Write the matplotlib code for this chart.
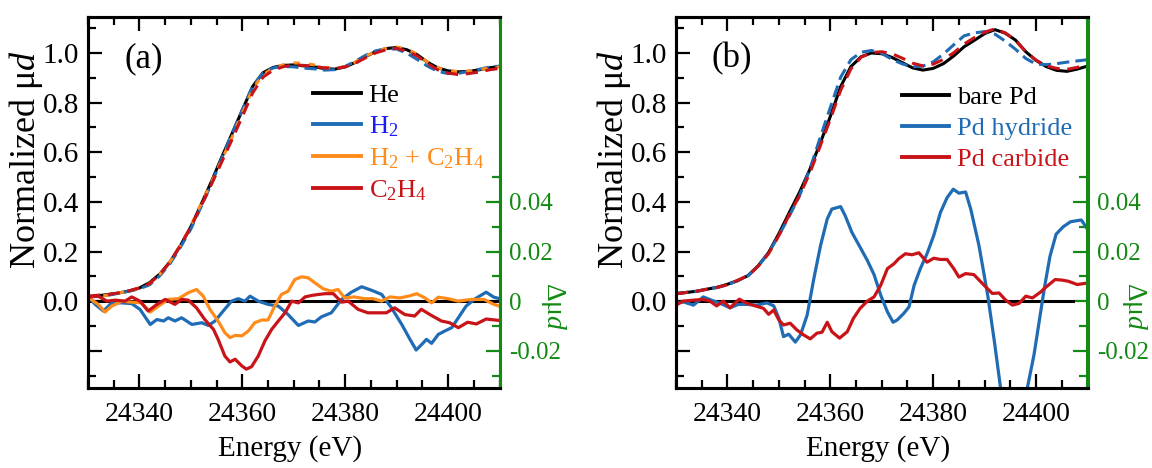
import matplotlib.pyplot as plt
from matplotlib.lines import Line2D
from matplotlib.ticker import FixedLocator, MultipleLocator, FuncFormatter

plt.rcParams['font.family'] = ['Liberation Serif', 'DejaVu Serif']
plt.rcParams['mathtext.fontset'] = 'custom'
plt.rcParams['mathtext.rm'] = 'Liberation Serif'
plt.rcParams['mathtext.it'] = 'Liberation Serif:italic'

# ---- data ----
energy = [24330, 24332, 24334, 24336, 24338, 24340, 24342, 24344, 24346, 24348,
          24350, 24352, 24354, 24356, 24358, 24360, 24362, 24364, 24366, 24368,
          24370, 24372, 24374, 24376, 24378, 24380, 24382, 24384, 24386, 24388,
          24390, 24392, 24394, 24396, 24398, 24400, 24402, 24404, 24406, 24408,
          24410]

# panel (a): normalized mu*d
mu_he = [0.018, 0.022, 0.027, 0.033, 0.041, 0.053, 0.075, 0.110, 0.160, 0.225,
         0.300, 0.390, 0.482, 0.580, 0.675, 0.770, 0.865, 0.920, 0.942, 0.950,
         0.952, 0.948, 0.944, 0.937, 0.935, 0.944, 0.962, 0.986, 1.006, 1.018,
         1.022, 1.013, 0.993, 0.963, 0.940, 0.928, 0.924, 0.926, 0.932, 0.940,
         0.946]
mu_h2 = [0.018, 0.020, 0.024, 0.032, 0.040, 0.050, 0.066, 0.103, 0.153, 0.218,
         0.291, 0.381, 0.473, 0.575, 0.675, 0.771, 0.866, 0.919, 0.940, 0.946,
         0.944, 0.939, 0.936, 0.931, 0.933, 0.946, 0.967, 0.991, 1.009, 1.017,
         1.016, 0.999, 0.974, 0.947, 0.926, 0.917, 0.918, 0.926, 0.934, 0.943,
         0.947]
mu_mix = [0.019, 0.020, 0.024, 0.033, 0.041, 0.053, 0.071, 0.109, 0.161, 0.226,
          0.304, 0.393, 0.478, 0.569, 0.661, 0.756, 0.855, 0.912, 0.939, 0.953,
          0.960, 0.958, 0.952, 0.942, 0.939, 0.945, 0.964, 0.987, 1.007, 1.019,
          1.024, 1.015, 0.996, 0.963, 0.941, 0.929, 0.924, 0.927, 0.933, 0.939,
          0.944]
mu_c2h4 = [0.020, 0.024, 0.027, 0.033, 0.042, 0.053, 0.071, 0.109, 0.159, 0.226,
           0.299, 0.384, 0.471, 0.561, 0.651, 0.744, 0.839, 0.902, 0.931, 0.945,
           0.952, 0.950, 0.946, 0.940, 0.937, 0.944, 0.959, 0.981, 1.001, 1.013,
           1.019, 1.007, 0.988, 0.958, 0.932, 0.919, 0.913, 0.917, 0.923, 0.932,
           0.938]

# panel (b): normalized mu*d
mu_bare = [0.031, 0.035, 0.040, 0.048, 0.056, 0.068, 0.083, 0.103, 0.143, 0.196,
           0.272, 0.356, 0.438, 0.530, 0.635, 0.744, 0.864, 0.945, 0.985, 1.000,
           0.997, 0.982, 0.961, 0.940, 0.931, 0.938, 0.957, 0.988, 1.025, 1.051,
           1.078, 1.094, 1.080, 1.052, 1.005, 0.970, 0.945, 0.930, 0.926, 0.935,
           0.947]
mu_hydride = [0.030, 0.035, 0.039, 0.049, 0.055, 0.066, 0.082, 0.102, 0.141, 0.195,
              0.265, 0.342, 0.424, 0.530, 0.657, 0.780, 0.902, 0.973, 1.003, 1.010,
              0.999, 0.974, 0.956, 0.944, 0.947, 0.964, 0.996, 1.033, 1.069, 1.081,
              1.086, 1.076, 1.048, 1.015, 0.978, 0.955, 0.953, 0.957, 0.963, 0.968,
              0.973]
mu_carbide = [0.029, 0.035, 0.040, 0.048, 0.055, 0.066, 0.084, 0.103, 0.141, 0.191,
              0.264, 0.347, 0.425, 0.515, 0.623, 0.733, 0.849, 0.936, 0.983, 1.002,
              1.005, 0.997, 0.979, 0.959, 0.948, 0.955, 0.974, 1.001, 1.036, 1.062,
              1.084, 1.097, 1.081, 1.051, 1.005, 0.971, 0.948, 0.938, 0.934, 0.942,
              0.954]

# difference spectra (energy, delta mu*d), right axis
d_h2 = [(24330.4, 0.001), (24331.4, -0.0013), (24333.0, -0.004), (24334.6, -0.0007),
        (24336.6, -0.0007), (24338.5, -0.001), (24340.1, -0.0033), (24342.1, -0.0094),
        (24343.4, -0.0074), (24344.7, -0.008), (24345.6, -0.0067), (24346.9, -0.008),
        (24348.2, -0.0067), (24350.2, -0.0094), (24352.1, -0.0087), (24353.4, -0.0098),
        (24354.7, -0.008), (24356.0, -0.0047), (24357.9, 0.0), (24359.2, 0.001),
        (24360.5, 0.0), (24361.5, 0.002), (24363.1, 0.0), (24365.0, -0.0013),
        (24367.0, -0.002), (24368.9, -0.0054), (24370.9, -0.0098), (24372.8, -0.008),
        (24374.1, -0.0084), (24375.4, -0.0063), (24377.3, -0.0047), (24379.3, 0.0007),
        (24381.2, 0.0036), (24383.2, 0.0058), (24385.1, 0.0044), (24387.1, 0.0027),
        (24389.0, -0.0027), (24391.0, -0.0094), (24392.6, -0.0154), (24393.8, -0.0197),
        (24394.9, -0.0174), (24395.8, -0.0154), (24396.8, -0.017), (24398.1, -0.0134),
        (24399.4, -0.012), (24400.7, -0.0107), (24402.0, -0.0067), (24403.5, -0.002),
        (24405.3, 0.001), (24407.4, 0.0036), (24408.9, 0.0016), (24410.0, 0.001)]
d_mix = [(24330.4, 0.001), (24332.0, -0.0013), (24333.3, -0.0044), (24334.6, -0.002),
         (24336.6, 0.0), (24338.5, -0.0004), (24340.4, -0.0007), (24342.1, -0.0044),
         (24343.7, -0.002), (24345.6, 0.0007), (24347.6, 0.001), (24349.5, 0.0034),
         (24351.1, 0.0047), (24352.4, 0.002), (24353.7, -0.0033), (24355.3, -0.008),
         (24356.6, -0.0127), (24357.6, -0.0147), (24358.6, -0.0138), (24359.9, -0.014),
         (24361.2, -0.012), (24362.4, -0.0087), (24363.8, -0.0076), (24365.0, -0.0076),
         (24366.3, -0.002), (24367.6, 0.0027), (24368.9, 0.004), (24370.2, 0.0087),
         (24371.5, 0.0098), (24372.8, 0.0094), (24374.1, 0.0074), (24375.7, 0.005),
         (24377.3, 0.004), (24378.6, 0.0047), (24379.9, 0.0013), (24381.8, 0.0017),
         (24383.8, 0.001), (24385.4, 0.001), (24387.1, 0.0), (24388.7, 0.0017),
         (24390.6, 0.0013), (24392.3, 0.002), (24393.9, 0.003), (24395.5, 0.0013),
         (24396.8, -0.0007), (24398.1, 0.0016), (24400.0, 0.001), (24402.0, 0.0),
         (24404.5, 0.0007), (24407.0, 0.0007), (24408.9, -0.0013), (24410.0, -0.002)]
d_c2h4 = [(24330.4, 0.0017), (24332.0, 0.002), (24333.7, 0.0), (24335.3, 0.0004),
          (24337.2, 0.0), (24338.5, 0.0017), (24340.1, 0.0), (24341.7, -0.004),
          (24343.4, -0.0013), (24345.0, 0.0007), (24346.9, -0.0013), (24348.2, 0.0007),
          (24349.5, 0.0004), (24351.1, -0.0027), (24352.7, -0.0074), (24354.4, -0.0114),
          (24355.3, -0.0154), (24356.6, -0.0221), (24357.6, -0.0245), (24358.6, -0.0234),
          (24359.9, -0.0261), (24360.8, -0.0274), (24361.8, -0.0264), (24363.1, -0.0221),
          (24364.4, -0.016), (24365.7, -0.0114), (24367.0, -0.008), (24368.3, -0.0047),
          (24369.6, 0.0), (24370.9, -0.0007), (24372.2, 0.0017), (24373.5, 0.0023),
          (24374.8, 0.0027), (24376.1, 0.003), (24377.7, 0.003), (24379.3, -0.0004),
          (24380.6, 0.0), (24382.5, -0.0033), (24384.4, -0.0047), (24386.4, -0.0047),
          (24388.0, -0.0047), (24389.6, -0.0027), (24391.6, -0.0054), (24393.5, -0.006),
          (24394.8, -0.0033), (24396.8, -0.0058), (24398.7, -0.008), (24400.3, -0.0087),
          (24402.0, -0.0107), (24403.8, -0.0085), (24405.5, -0.0092), (24407.4, -0.0072),
          (24410.0, -0.0078)]
d_hydride = [(24330.0, -0.0009), (24331.4, -0.0003), (24333.4, -0.0016), (24335.3, 0.0017),
             (24336.9, 0.0004), (24338.6, -0.0009), (24340.5, -0.0027), (24342.1, -0.0013),
             (24343.8, -0.0013), (24345.7, -0.0016), (24347.7, -0.0007), (24349.0, -0.0019),
             (24350.0, -0.0069), (24350.9, -0.0143), (24351.9, -0.0133), (24353.2, -0.0165),
             (24354.2, -0.0136), (24355.5, -0.0056), (24356.8, 0.0091), (24358.1, 0.0224),
             (24359.4, 0.0331), (24360.3, 0.0371), (24362.0, 0.0381), (24362.9, 0.0344),
             (24364.2, 0.0277), (24365.8, 0.0217), (24367.2, 0.0164), (24368.5, 0.0107),
             (24369.8, 0.0024), (24371.1, -0.0043), (24372.2, -0.0085), (24373.0, -0.0076),
             (24374.3, -0.0049), (24375.3, -0.0023), (24376.3, 0.0064), (24377.5, 0.0131),
             (24378.8, 0.0191), (24380.1, 0.0264), (24381.4, 0.0357), (24382.7, 0.0417),
             (24383.9, 0.0451), (24385.0, 0.0435), (24386.3, 0.044), (24387.3, 0.0371),
             (24388.9, 0.0224), (24390.6, 0.0024), (24391.9, -0.0163), (24393.1, -0.035),
             (24394.5, -0.050), (24395.8, -0.056), (24397.1, -0.050), (24398.3, -0.035),
             (24399.6, -0.0216), (24400.9, -0.0043), (24401.6, 0.0051), (24402.7, 0.018),
             (24403.9, 0.027), (24405.3, 0.030), (24406.7, 0.032), (24408.8, 0.0327),
             (24410.0, 0.029)]
d_carbide = [(24330.0, -0.0016), (24331.4, 0.0), (24333.4, 0.0004), (24335.3, 0.0007),
             (24336.6, 0.0), (24337.9, -0.0019), (24339.2, 0.0), (24340.5, -0.0027),
             (24342.3, 0.0008), (24343.8, -0.0009), (24345.4, -0.0019), (24347.0, -0.0029),
             (24348.0, -0.0053), (24349.0, -0.0036), (24350.0, -0.0076), (24350.9, -0.0096),
             (24352.2, -0.0089), (24353.5, -0.0116), (24354.8, -0.0136), (24356.1, -0.0152),
             (24357.4, -0.0129), (24358.4, -0.0125), (24359.4, -0.0085), (24360.3, -0.0123),
             (24361.8, -0.0149), (24363.3, -0.0123), (24364.5, -0.0069), (24365.8, -0.0029),
             (24367.2, 0.0), (24368.5, 0.0017), (24369.8, 0.0064), (24371.1, 0.0131),
             (24372.4, 0.0151), (24373.3, 0.0171), (24374.6, 0.0191), (24375.9, 0.0187),
             (24377.2, 0.0195), (24378.8, 0.0157), (24380.1, 0.0173), (24381.4, 0.0168),
             (24382.7, 0.0168), (24384.0, 0.0131), (24385.0, 0.0097), (24386.3, 0.0111),
             (24387.9, 0.0107), (24389.9, 0.0064), (24391.5, 0.0031), (24392.8, 0.0033),
             (24394.1, 0.0004), (24395.4, -0.0016), (24396.7, -0.0009), (24398.0, 0.002),
             (24399.3, 0.0013), (24400.9, 0.0037), (24401.6, 0.0051), (24403.7, 0.0087),
             (24405.0, 0.0085), (24406.3, 0.008), (24408.0, 0.0067), (24410.0, 0.0073)]

labels_a = ['He', 'H$_2$', 'H$_2$ + C$_2$H$_4$', 'C$_2$H$_4$']
labels_b = ['bare Pd', 'Pd hydride', 'Pd carbide']

BLACK = '#000000'
BLUE = '#1f6cb5'
ORANGE = '#ff8c1a'
RED = '#c81418'
GREEN = '#138a13'


def split(pairs):
    return [p[0] for p in pairs], [p[1] for p in pairs]


def style_axes(ax, axr, panel, rlabel_x):
    ax.set_xlim(24330, 24410)
    ax.set_ylim(-0.35, 1.145)
    axr.set_ylim(-0.035, 0.1145)

    ax.xaxis.set_major_locator(MultipleLocator(20))
    ax.xaxis.set_minor_locator(MultipleLocator(5))
    ax.yaxis.set_major_locator(FixedLocator([-0.2, 0, 0.2, 0.4, 0.6, 0.8, 1.0]))
    ax.yaxis.set_minor_locator(MultipleLocator(0.1))
    ax.yaxis.set_major_formatter(FuncFormatter(lambda v, p: '' if v < -0.01 else f'{v:.1f}'))
    ax.tick_params(axis='both', which='both', direction='in', top=True, width=1.6)
    ax.tick_params(axis='both', which='major', length=10)
    ax.tick_params(axis='both', which='minor', length=5.5)
    ax.tick_params(axis='x', which='major', pad=10, labelsize=20)
    ax.tick_params(axis='y', which='major', pad=6.5, labelsize=21)

    axr.yaxis.set_major_locator(FixedLocator([-0.02, 0, 0.02, 0.04]))
    axr.yaxis.set_minor_locator(FixedLocator([-0.03, -0.01, 0.01, 0.03, 0.05]))
    axr.yaxis.set_major_formatter(FuncFormatter(lambda v, p: '0' if abs(v) < 1e-9 else f'{v:.2f}'))
    axr.tick_params(axis='y', which='both', direction='in', colors=GREEN, width=1.6,
                    labelsize=18, pad=7)
    axr.tick_params(axis='y', which='major', length=10)
    axr.tick_params(axis='y', which='minor', length=5.5)

    for a in (ax, axr):
        for s in a.spines.values():
            s.set_linewidth(2.2)
        a.spines['right'].set_color(GREEN)

    ax.set_xlabel('Energy (eV)', fontsize=21)
    ax.xaxis.set_label_coords(0.49, -0.128)
    ax.set_ylabel('Normalized μ$d$', fontsize=26)
    ax.yaxis.set_label_coords(-0.105, 0.615)
    axr.set_ylabel('Δμ$d$', fontsize=20, color=GREEN, rotation=270, va='bottom')
    axr.yaxis.set_label_coords(rlabel_x, 0.22)

    ax.text(0.135, 0.887, panel, transform=ax.transAxes, ha='center', va='center',
            fontsize=25)


fig = plt.figure(figsize=(11.52, 4.68), dpi=100)
ax_a = fig.add_axes([88 / 1152, 1 - 388 / 468, 411.5 / 1152, 371 / 468])
ax_b = fig.add_axes([676 / 1152, 1 - 388 / 468, 411.5 / 1152, 371 / 468])
ax_ar = ax_a.twinx()
ax_br = ax_b.twinx()

# ---- panel (a) ----
ax_a.plot(energy, mu_he, color=BLACK, lw=2.2)
ax_a.plot(energy, mu_h2, color=BLUE, lw=2.2, dashes=(4, 2))
ax_a.plot(energy, mu_mix, color=ORANGE, lw=2.2, dashes=(2, 3))
ax_a.plot(energy, mu_c2h4, color=RED, lw=2.2, dashes=(4, 2.5))

ax_ar.axhline(0, color=BLACK, lw=2.2)
l1, = ax_ar.plot(*split(d_h2), color=BLUE, lw=2.3)
l2, = ax_ar.plot(*split(d_mix), color=ORANGE, lw=2.3)
l3, = ax_ar.plot(*split(d_c2h4), color=RED, lw=2.3)

style_axes(ax_a, ax_ar, '(a)', 1.095)
leg = ax_ar.legend([Line2D([], [], color=BLACK), l1, l2, l3], labels_a,
                   loc='upper left', bbox_to_anchor=(0.547, 0.82), frameon=False,
                   fontsize=19, handlelength=1.8, handletextpad=0.3, labelspacing=0.28,
                   borderpad=0, borderaxespad=0)
for t, c in zip(leg.get_texts(), [BLACK, '#1a1aff', ORANGE, RED]):
    t.set_color(c)
for h in leg.legend_handles:
    h.set_linewidth(2.8)

# ---- panel (b) ----
ax_b.plot(energy, mu_bare, color=BLACK, lw=2.2)
ax_b.plot(energy, mu_hydride, color=BLUE, lw=2.2, dashes=(4, 2))
ax_b.plot(energy, mu_carbide, color=RED, lw=2.2, dashes=(4, 2.5))

ax_br.axhline(0, xmax=0.965, color=BLACK, lw=2.2)
m1, = ax_br.plot(*split(d_hydride), color=BLUE, lw=2.3)
m2, = ax_br.plot(*split(d_carbide), color=RED, lw=2.3)

style_axes(ax_b, ax_br, '(b)', 1.08)
leg = ax_br.legend([Line2D([], [], color=BLACK), m1, m2], labels_b,
                   loc='upper left', bbox_to_anchor=(0.548, 0.815), frameon=False,
                   fontsize=19, handlelength=1.8, handletextpad=0.3, labelspacing=0.28,
                   borderpad=0, borderaxespad=0)
for t, c in zip(leg.get_texts(), [BLACK, BLUE, RED]):
    t.set_color(c)
for h in leg.legend_handles:
    h.set_linewidth(2.8)

fig.savefig('out.png', dpi=100)
